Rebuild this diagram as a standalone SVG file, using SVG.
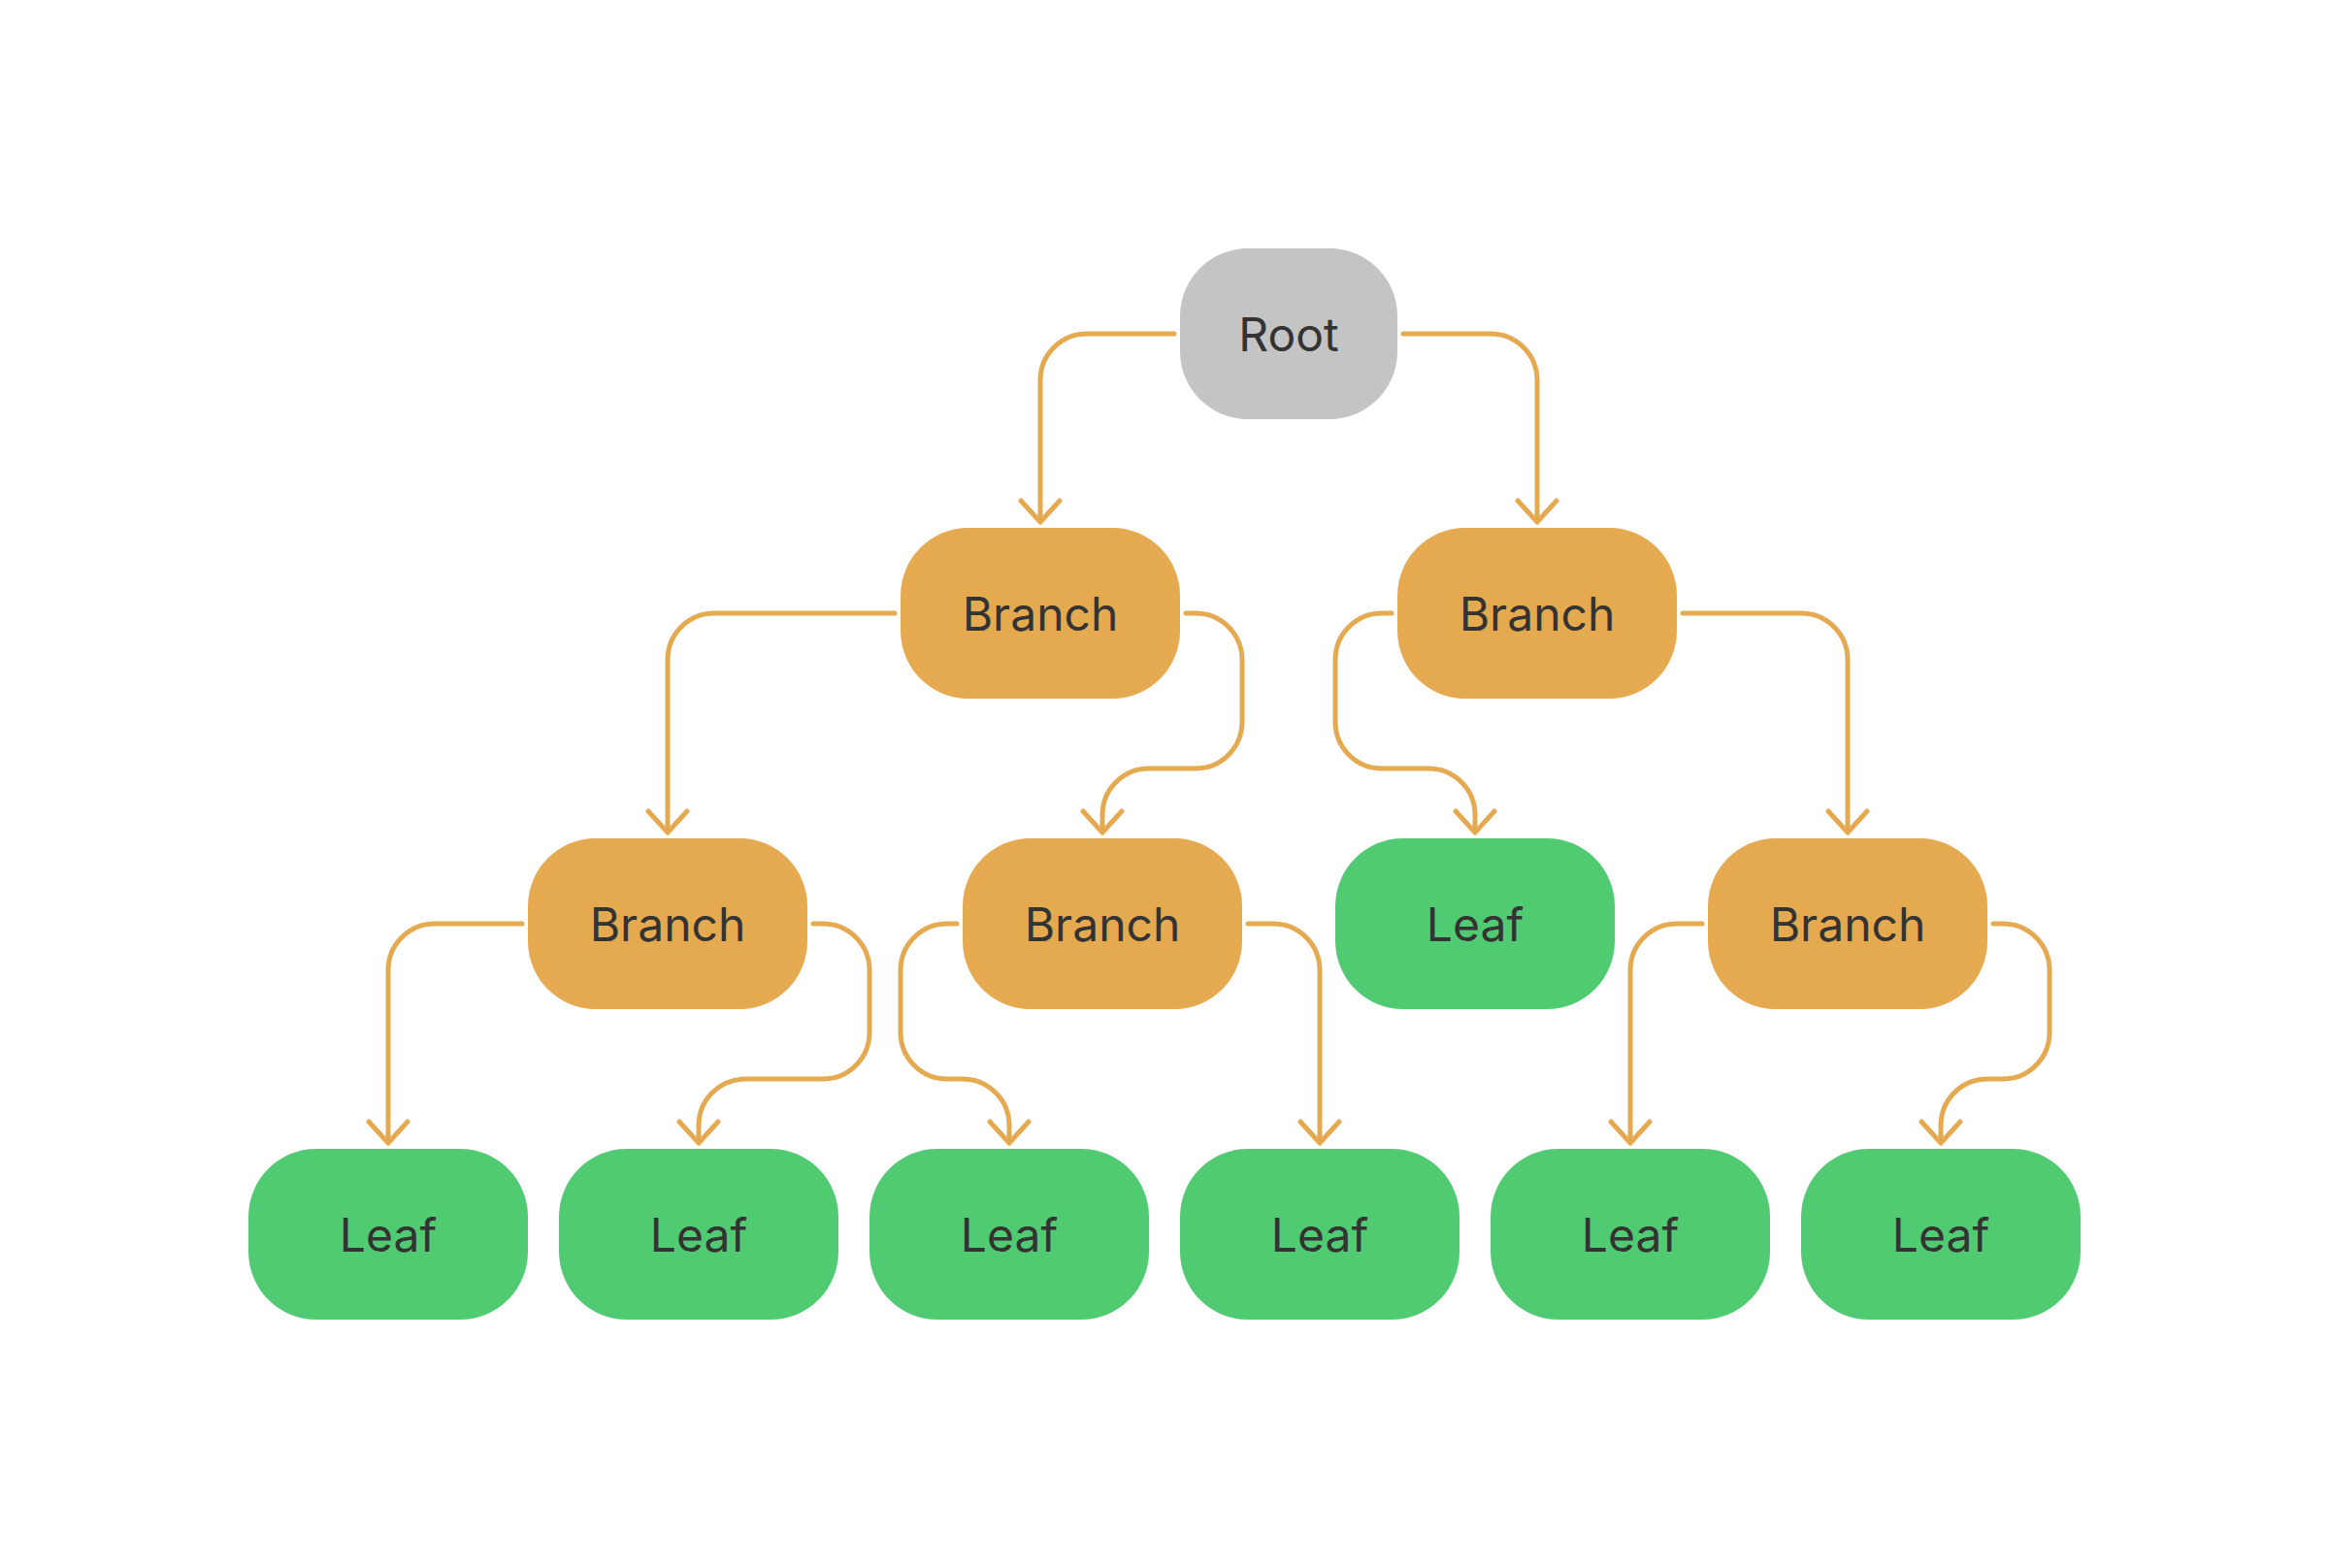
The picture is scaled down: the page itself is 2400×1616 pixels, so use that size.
<svg xmlns="http://www.w3.org/2000/svg" width="2400" height="1616" viewBox="0 0 2400 1616">
<style>
.root{fill:#C4C4C4}
.branch{fill:#E5A950}
.leaf{fill:#50CB71}
.lbl{font-family:Inter,"Noto Sans","Liberation Sans",sans-serif;font-size:48px;fill:#333333;text-anchor:middle}
.edge{fill:none;stroke:#E5A950;stroke-width:5;stroke-linecap:round;stroke-linejoin:round;marker-end:url(#arr)}
</style>
<defs>
<marker id="arr" markerUnits="userSpaceOnUse" viewBox="-30 -30 60 60" markerWidth="60" markerHeight="60" refX="0" refY="0" orient="auto" overflow="visible">
<path d="M-22,-20 L0,0 L-22,20" fill="none" stroke="#E5A950" stroke-width="5" stroke-linecap="round" stroke-linejoin="round"/>
</marker>
</defs>
<rect width="2400" height="1616" fill="#ffffff"/>
<g id="connectors">
<path class="edge" d="M1210,344 H1120 A48,48 0 0 0 1072,392 V538"/>
<path class="edge" d="M1446,344 H1536 A48,48 0 0 1 1584,392 V538"/>
<path class="edge" d="M922,632 H736 A48,48 0 0 0 688,680 V858"/>
<path class="edge" d="M1222,632 H1232 A48,48 0 0 1 1280,680 V744 A48,48 0 0 1 1232,792 H1184 A48,48 0 0 0 1136,840 V858"/>
<path class="edge" d="M1434,632 H1424 A48,48 0 0 0 1376,680 V744 A48,48 0 0 0 1424,792 H1472 A48,48 0 0 1 1520,840 V858"/>
<path class="edge" d="M1734,632 H1856 A48,48 0 0 1 1904,680 V858"/>
<path class="edge" d="M538,952 H448 A48,48 0 0 0 400,1000 V1178"/>
<path class="edge" d="M838,952 H848 A48,48 0 0 1 896,1000 V1064 A48,48 0 0 1 848,1112 H768 A48,48 0 0 0 720,1160 V1178"/>
<path class="edge" d="M986,952 H976 A48,48 0 0 0 928,1000 V1064 A48,48 0 0 0 976,1112 H992 A48,48 0 0 1 1040,1160 V1178"/>
<path class="edge" d="M1286,952 H1312 A48,48 0 0 1 1360,1000 V1178"/>
<path class="edge" d="M1754,952 H1728 A48,48 0 0 0 1680,1000 V1178"/>
<path class="edge" d="M2054,952 H2064 A48,48 0 0 1 2112,1000 V1064 A48,48 0 0 1 2064,1112 H2048 A48,48 0 0 0 2000,1160 V1178"/>
</g>
<g id="root"><rect class="root" x="1216" y="256" width="224" height="176" rx="70"/><text class="lbl" x="1328" y="361.5">Root</text></g>
<g id="branch-1"><rect class="branch" x="928" y="544" width="288" height="176" rx="70"/><text class="lbl" x="1072" y="649.5">Branch</text></g>
<g id="branch-2"><rect class="branch" x="1440" y="544" width="288" height="176" rx="70"/><text class="lbl" x="1584" y="649.5">Branch</text></g>
<g id="branch-3"><rect class="branch" x="544" y="864" width="288" height="176" rx="70"/><text class="lbl" x="688" y="969.5">Branch</text></g>
<g id="branch-4"><rect class="branch" x="992" y="864" width="288" height="176" rx="70"/><text class="lbl" x="1136" y="969.5">Branch</text></g>
<g id="leaf-1"><rect class="leaf" x="1376" y="864" width="288" height="176" rx="70"/><text class="lbl" x="1520" y="969.5">Leaf</text></g>
<g id="branch-5"><rect class="branch" x="1760" y="864" width="288" height="176" rx="70"/><text class="lbl" x="1904" y="969.5">Branch</text></g>
<g id="leaf-2"><rect class="leaf" x="256" y="1184" width="288" height="176" rx="70"/><text class="lbl" x="400" y="1289.5">Leaf</text></g>
<g id="leaf-3"><rect class="leaf" x="576" y="1184" width="288" height="176" rx="70"/><text class="lbl" x="720" y="1289.5">Leaf</text></g>
<g id="leaf-4"><rect class="leaf" x="896" y="1184" width="288" height="176" rx="70"/><text class="lbl" x="1040" y="1289.5">Leaf</text></g>
<g id="leaf-5"><rect class="leaf" x="1216" y="1184" width="288" height="176" rx="70"/><text class="lbl" x="1360" y="1289.5">Leaf</text></g>
<g id="leaf-6"><rect class="leaf" x="1536" y="1184" width="288" height="176" rx="70"/><text class="lbl" x="1680" y="1289.5">Leaf</text></g>
<g id="leaf-7"><rect class="leaf" x="1856" y="1184" width="288" height="176" rx="70"/><text class="lbl" x="2000" y="1289.5">Leaf</text></g>
</svg>
